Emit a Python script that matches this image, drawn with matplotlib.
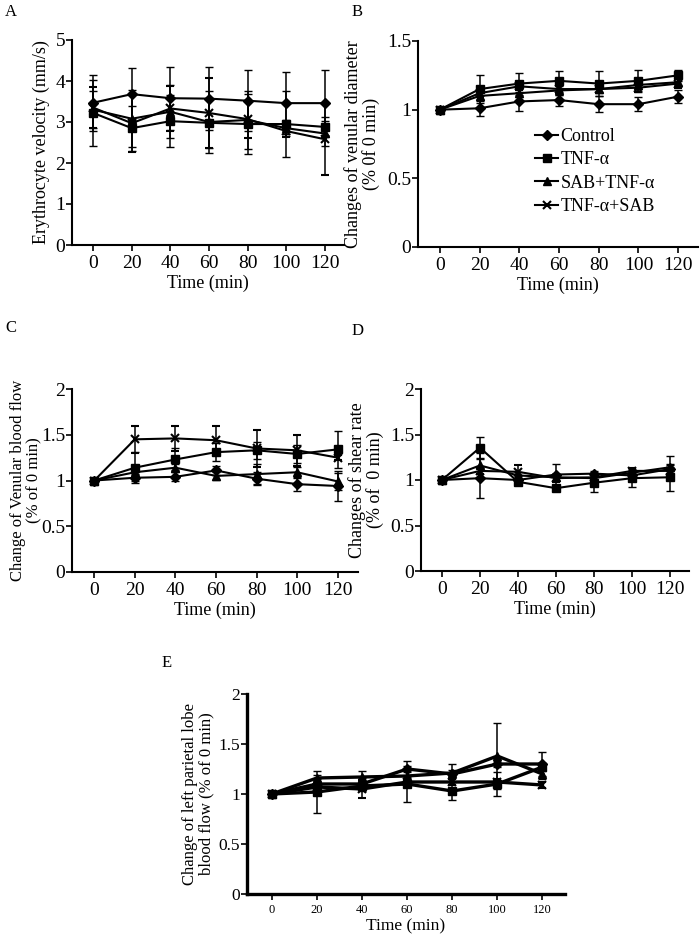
import matplotlib
matplotlib.use("Agg")
import matplotlib.pyplot as plt
import numpy as np

plt.rcParams['font.family'] = ['Liberation Serif', 'DejaVu Serif']

time = [0, 20, 40, 60, 80, 100, 120]
series_names = ["Control", "TNF-\u03b1", "SAB+TNF-\u03b1", "TNF-\u03b1+SAB"]
markers = ["D", "s", "^", "x"]

# Panel A: Erythrocyte velocity (mm/s)
a_control = [3.47, 3.68, 3.58, 3.57, 3.52, 3.46, 3.46]
a_tnf = [3.22, 2.85, 3.02, 2.98, 2.95, 2.95, 2.88]
a_sab_tnf = [3.30, 3.08, 3.25, 3.00, 3.05, 2.85, 2.72]
a_tnf_sab = [3.35, 2.97, 3.33, 3.22, 3.07, 2.78, 2.58]
a_control_err = [0.68, 0.64, 0.77, 0.76, 0.75, 0.76, 0.81]
a_tnf_err = [0.80, 0.55, 0.64, 0.61, 0.73, 0.80, 0.25]
a_sab_tnf_err = [0.45, 0.70, 0.65, 0.75, 0.70, 0.20, 0.30]
a_tnf_sab_err = [0.50, 0.70, 0.55, 0.85, 0.45, 0.15, 0.88]

# Panel B: venular diameter
b_control = [1.00, 1.01, 1.06, 1.07, 1.04, 1.04, 1.095]
b_tnf = [1.00, 1.15, 1.19, 1.21, 1.19, 1.21, 1.25]
b_sab_tnf = [1.00, 1.10, 1.12, 1.14, 1.15, 1.18, 1.20]
b_tnf_sab = [1.00, 1.12, 1.17, 1.15, 1.15, 1.16, 1.19]
b_control_err = [0.0, 0.055, 0.07, 0.04, 0.06, 0.05, 0.045]
b_tnf_err = [0.0, 0.10, 0.08, 0.07, 0.09, 0.08, 0.04]
b_sab_tnf_err = [0.0, 0.03, 0.03, 0.03, 0.03, 0.03, 0.03]
b_tnf_sab_err = [0.0, 0.03, 0.03, 0.03, 0.03, 0.03, 0.03]

# Panel C: venular blood flow
c_control = [1.00, 1.03, 1.04, 1.11, 1.02, 0.96, 0.94]
c_tnf = [1.00, 1.14, 1.23, 1.31, 1.33, 1.29, 1.34]
c_sab_tnf = [1.00, 1.09, 1.14, 1.05, 1.07, 1.09, 0.99]
c_tnf_sab = [1.00, 1.45, 1.46, 1.44, 1.35, 1.33, 1.25]
c_control_err = [0.0, 0.04, 0.05, 0.05, 0.07, 0.08, 0.16]
c_tnf_err = [0.0, 0.17, 0.12, 0.10, 0.09, 0.10, 0.20]
c_sab_tnf_err = [0.0, 0.04, 0.04, 0.04, 0.11, 0.06, 0.09]
c_tnf_sab_err = [0.0, 0.15, 0.14, 0.16, 0.20, 0.17, 0.03]

# Panel D: shear rate
d_control = [1.00, 1.02, 1.00, 1.06, 1.07, 1.05, 1.12]
d_tnf = [1.00, 1.355, 0.98, 0.91, 0.97, 1.02, 1.03]
d_sab_tnf = [1.00, 1.16, 1.05, 1.03, 1.02, 1.08, 1.14]
d_tnf_sab = [1.00, 1.10, 1.09, 1.02, 1.03, 1.10, 1.10]
d_control_err = [0.0, 0.22, 0.04, 0.12, 0.03, 0.04, 0.04]
d_tnf_err = [0.0, 0.12, 0.03, 0.02, 0.10, 0.10, 0.15]
d_sab_tnf_err = [0.0, 0.14, 0.04, 0.04, 0.03, 0.03, 0.12]
d_tnf_sab_err = [0.0, 0.03, 0.08, 0.04, 0.03, 0.03, 0.03]

# Panel E: left parietal lobe blood flow
e_control = [1.00, 1.10, 1.10, 1.25, 1.20, 1.30, 1.30]
e_tnf = [1.00, 1.02, 1.08, 1.10, 1.03, 1.10, 1.27]
e_sab_tnf = [1.00, 1.16, 1.17, 1.18, 1.21, 1.38, 1.20]
e_tnf_sab = [1.00, 1.07, 1.05, 1.12, 1.12, 1.12, 1.09]
e_control_err = [0.0, 0.05, 0.06, 0.08, 0.04, 0.03, 0.12]
e_tnf_err = [0.0, 0.21, 0.05, 0.18, 0.09, 0.12, 0.04]
e_sab_tnf_err = [0.0, 0.03, 0.06, 0.04, 0.09, 0.33, 0.05]
e_tnf_sab_err = [0.0, 0.03, 0.09, 0.03, 0.03, 0.03, 0.03]

W, H = 700, 941
fig = plt.figure(figsize=(W / 100, H / 100), dpi=100)


def add_ax(l, r, t, b):
    return fig.add_axes([l / W, 1 - b / H, (r - l) / W, (b - t) / H])


def draw(ax, vals, errs, ylim, yticks, yticklabels, ylabel, label_x,
         lw=1.5, tickfs=14, labfs=13, ylabfs=13):
    for v, e, m in zip(vals, errs, markers):
        if m == "x":
            ms, mew = 6, 1.5
        elif m == "D":
            ms, mew = 5, 1
        else:
            ms, mew = 6, 1
        ax.errorbar(time, v, yerr=e, color="black", lw=lw, marker=m,
                    markersize=ms, markeredgewidth=mew, ecolor="black",
                    elinewidth=1.1, capsize=3, capthick=1.1)
    ax.set_xlim(-11, 130)
    ax.set_ylim(*ylim)
    ax.set_xticks(time)
    ax.set_yticks(yticks)
    ax.set_yticklabels(yticklabels)
    for s in ["top", "right"]:
        ax.spines[s].set_visible(False)
    for s in ["left", "bottom"]:
        ax.spines[s].set_linewidth(lw)
    ax.tick_params(direction="out", length=4, width=1.2, labelsize=tickfs,
                   pad=3)
    ax.tick_params(axis="y", pad=1)
    ax.set_ylabel(ylabel, fontsize=ylabfs, linespacing=1.0)
    ax.yaxis.set_label_coords(label_x, 0.5)
    ax.set_xlabel("Time (min)", fontsize=labfs, labelpad=2)


# A
axA = add_ax(72, 344, 40, 245)
draw(axA, [a_control, a_tnf, a_sab_tnf, a_tnf_sab],
     [a_control_err, a_tnf_err, a_sab_tnf_err, a_tnf_sab_err],
     (0, 5), [0, 1, 2, 3, 4, 5], ["0", "1", "2", "3", "4", "5"],
     "Erythrocyte velocity (mm/s)", (50 - 72) / 272)
fig.text(5 / W, 1 - 12 / H, "A", fontsize=12, va="center")

# B
axB = add_ax(418, 698, 41, 247)
draw(axB, [b_control, b_tnf, b_sab_tnf, b_tnf_sab],
     [b_control_err, b_tnf_err, b_sab_tnf_err, b_tnf_sab_err],
     (0, 1.5), [0, 0.5, 1, 1.5], ["0", "0.5", "1", "1.5"],
     "Changes of venular diameter\n(% 0f 0 min)", (380 - 418) / 280)
fig.text(352 / W, 1 - 12 / H, "B", fontsize=12, va="center")
leg_handles = [l for l in axB.lines if l.get_marker() in markers]
leg = axB.legend(leg_handles[:4], series_names, loc="upper left",
                 bbox_to_anchor=((535 - 418) / 280, (247 - 128) / 206),
                 frameon=False, fontsize=13, handlelength=1.3,
                 handletextpad=0.1, labelspacing=0.35, borderaxespad=0,
                 borderpad=0)

# C
axC = add_ax(72, 358, 389, 572)
draw(axC, [c_control, c_tnf, c_sab_tnf, c_tnf_sab],
     [c_control_err, c_tnf_err, c_sab_tnf_err, c_tnf_sab_err],
     (0, 2), [0, 0.5, 1, 1.5, 2], ["0", "0.5", "1", "1.5", "2"],
     "Change of Venular blood flow\n(% of 0 min)", (42 - 72) / 286,
     ylabfs=12)
fig.text(5 / W, 1 - 328 / H, "C", fontsize=12, va="center")

# D
axD = add_ax(421, 689, 389, 571)
draw(axD, [d_control, d_tnf, d_sab_tnf, d_tnf_sab],
     [d_control_err, d_tnf_err, d_sab_tnf_err, d_tnf_sab_err],
     (0, 2), [0, 0.5, 1, 1.5, 2], ["0", "0.5", "1", "1.5", "2"],
     "Changes of shear rate\n(% of  0 min)", (384 - 421) / 268)
fig.text(352 / W, 1 - 331 / H, "D", fontsize=12, va="center")

# E
axE = add_ax(247, 565, 694, 894)
draw(axE, [e_control, e_tnf, e_sab_tnf, e_tnf_sab],
     [e_control_err, e_tnf_err, e_sab_tnf_err, e_tnf_sab_err],
     (0, 2), [0, 0.5, 1, 1.5, 2], ["0", "0.5", "1", "1.5", "2"],
     "Change of left parietal lobe\nblood flow (% of 0 min)",
     (214 - 247) / 318, lw=2.4, labfs=12.5, ylabfs=12)
axE.tick_params(axis="x", labelsize=9)
axE.tick_params(axis="y", labelsize=12.5)
fig.text(162 / W, 1 - 663 / H, "E", fontsize=12, va="center")

fig.savefig("out.png", dpi=100)
